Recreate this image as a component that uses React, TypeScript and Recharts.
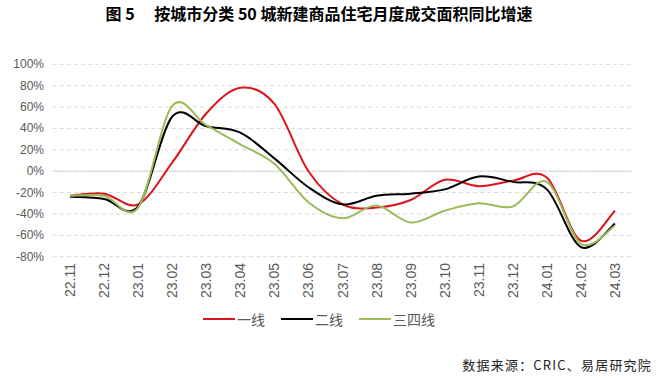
import React from 'react';
import { LineChart, Line, XAxis, YAxis, CartesianGrid, ReferenceLine } from 'recharts';

const categories = ['22.11', '22.12', '23.01', '23.02', '23.03', '23.04', '23.05', '23.06', '23.07', '23.08', '23.09', '23.10', '23.11', '23.12', '24.01', '24.02', '24.03'];
const tier1 = [-23, -21, -31, 8, 54, 78, 63, 0, -31, -34, -27, -8, -14, -9, -6, -65, -37];
const tier2 = [-24, -26, -33, 51, 42, 36, 12, -15, -31, -23, -21, -17, -5, -10, -17, -71, -49];
const tier34 = [-23, -23, -34, 61, 43, 25, 7, -29, -44, -32, -48, -37, -30, -33, -10, -68, -51];
const yTicks = [-80, -60, -40, -20, 0, 20, 40, 60, 80, 100];
const seriesNames = ['一线', '二线', '三四线'];
const colors = ['#DC141C', '#000000', '#9BBB59'];

const data = categories.map((c, i) => ({ cat: c, t1: tier1[i], t2: tier2[i], t34: tier34[i] }));

// Excel-like smoothed line (Catmull-Rom spline)
const excelSmooth: any = (context: any) => {
  let pts: number[][] = [];
  return {
    areaStart() {},
    areaEnd() {},
    lineStart() { pts = []; },
    point(x: number, y: number) { pts.push([+x, +y]); },
    lineEnd() {
      const n = pts.length;
      if (!n) return;
      context.moveTo(pts[0][0], pts[0][1]);
      for (let i = 0; i < n - 1; i++) {
        const p0 = pts[i - 1] || pts[i];
        const p1 = pts[i];
        const p2 = pts[i + 1];
        const p3 = pts[i + 2] || pts[i + 1];
        context.bezierCurveTo(
          p1[0] + (p2[0] - p0[0]) / 6, p1[1] + (p2[1] - p0[1]) / 6,
          p2[0] - (p3[0] - p1[0]) / 6, p2[1] - (p3[1] - p1[1]) / 6,
          p2[0], p2[1]
        );
      }
    },
  };
};

const FONT = '"Liberation Sans", Arial, "Noto Sans CJK SC", sans-serif';

const YTick = (props: any) => {
  const { y, payload } = props;
  return (
    <text x={44} y={y} textAnchor="end" dominantBaseline="central" fill="#595959" fontSize={12} fontFamily={FONT}>
      {payload.value}%
    </text>
  );
};

const XTick = (props: any) => {
  const { x, payload } = props;
  const y = 263;
  return (
    <text x={x} y={y} transform={`rotate(-90 ${x} ${y})`} textAnchor="end" dominantBaseline="central" fill="#595959" fontSize={14} fontFamily={FONT}>
      {payload.value}
    </text>
  );
};

export default function App() {
  return (
    <div style={{ position: 'absolute', left: 0, top: 0, width: 656, height: 380, background: '#fff', overflow: 'hidden' }}>
      <div style={{ position: 'absolute', left: 0, top: 4, width: 656, textAlign: 'center', fontFamily: '"Noto Sans CJK SC", sans-serif', fontWeight: 700, fontSize: 16, lineHeight: '18px', color: '#000', paddingRight: 18, boxSizing: 'border-box' }}>
        图 5　 按城市分类 50 城新建商品住宅月度成交面积同比增速
      </div>
      <LineChart width={656} height={380} data={data} margin={{ top: 64.3, right: 24, bottom: 93.3, left: 0 }}>
        <CartesianGrid vertical={false} stroke="#D9D9D9" strokeDasharray="4 3" />
        <ReferenceLine y={0} stroke="#D9D9D9" strokeWidth={1} />
        <XAxis dataKey="cat" height={30} axisLine={false} tickLine={false} interval={0} padding={{ left: 17, right: 17 }} tick={<XTick />} />
        <YAxis width={53} domain={[-80, 100]} ticks={yTicks} axisLine={false} tickLine={false} interval={0} tick={<YTick />} />
        <Line dataKey="t1" name={seriesNames[0]} type={excelSmooth} stroke={colors[0]} strokeWidth={2} dot={false} activeDot={false} isAnimationActive={false} />
        <Line dataKey="t2" name={seriesNames[1]} type={excelSmooth} stroke={colors[1]} strokeWidth={2} dot={false} activeDot={false} isAnimationActive={false} />
        <Line dataKey="t34" name={seriesNames[2]} type={excelSmooth} stroke={colors[2]} strokeWidth={2} dot={false} activeDot={false} isAnimationActive={false} />
      </LineChart>
      <div style={{ position: 'absolute', left: 203, top: 310, display: 'flex', alignItems: 'center', fontFamily: '"Noto Sans CJK SC", sans-serif', fontSize: 14, color: '#595959', lineHeight: '18px' }}>
        {seriesNames.map((n, i) => (
          <div key={n} style={{ display: 'flex', alignItems: 'center', marginRight: i < 2 ? 16 : 0 }}>
            <div style={{ width: 32, height: 2.5, background: colors[i], marginRight: 2 }} />
            <span>{n}</span>
          </div>
        ))}
      </div>
      <div style={{ position: 'absolute', right: 4, top: 357, fontFamily: '"Noto Sans CJK SC", sans-serif', fontSize: 13, letterSpacing: 1.2, color: '#222', lineHeight: '16px' }}>
        数据来源：CRIC、易居研究院
      </div>
    </div>
  );
}
